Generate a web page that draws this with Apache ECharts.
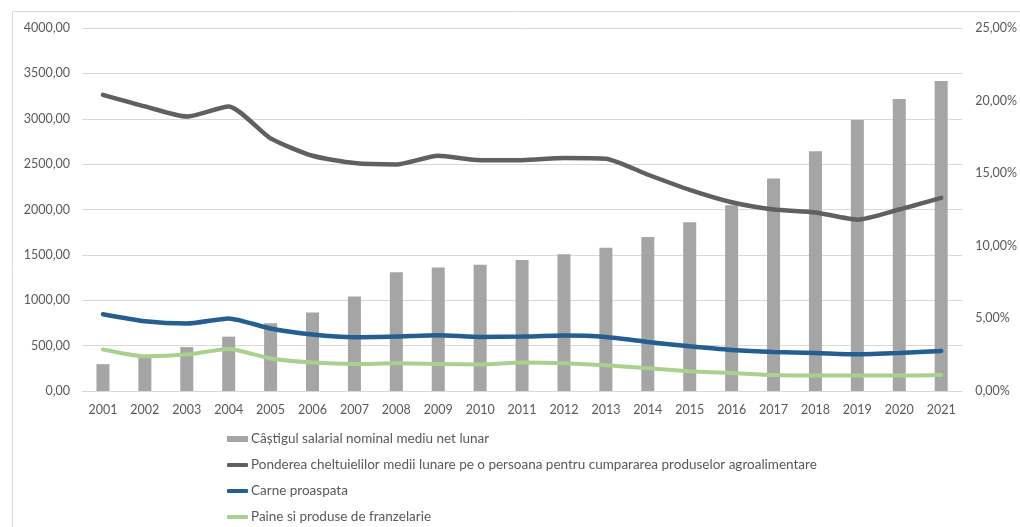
<!DOCTYPE html>
<html><head><meta charset="utf-8">
<script src="https://cdn.jsdelivr.net/npm/echarts@6/dist/echarts.min.js"></script>
<style>html,body{margin:0;padding:0;background:#fff}#c{width:1020px;height:527px}</style>
</head><body><div id="c"></div>
<script>
const years = ['2001','2002','2003','2004','2005','2006','2007','2008','2009','2010','2011','2012','2013','2014','2015','2016','2017','2018','2019','2020','2021'];
const salary = [296,379,484,599,746,866,1042,1309,1361,1391,1444,1507,1579,1697,1859,2046,2342,2642,2986,3217,3417];
const pondere = [20.4,19.6,18.9,19.6,17.4,16.2,15.7,15.6,16.2,15.9,15.9,16.05,16.0,14.9,13.85,13.0,12.5,12.3,11.8,12.5,13.3];
const carne = [5.29,4.81,4.65,5.0,4.3,3.89,3.7,3.75,3.84,3.72,3.75,3.82,3.72,3.38,3.08,2.83,2.69,2.62,2.53,2.62,2.76];
const paine = [2.86,2.39,2.51,2.9,2.24,1.96,1.86,1.91,1.86,1.82,1.96,1.91,1.77,1.57,1.36,1.24,1.1,1.06,1.06,1.06,1.1];
const names = ['Câștigul salarial nominal mediu net lunar','Ponderea cheltuielilor medii lunare pe o persoana pentru cumpararea produselor agroalimentare','Carne proaspata','Paine si produse de franzelarie'];

const txt = '#595959';
const font = 'Lato, "Open Sans", sans-serif';
const legendTops = [427, 453, 479, 505];
const legends = names.map((n, i) => ({
  orient: 'vertical', left: 222, top: legendTops[i],
  itemWidth: 21, itemHeight: i === 0 ? 6 : 4, itemGap: 0,
  icon: i === 0 ? 'rect' : 'roundRect',
  textStyle: {color: txt, fontSize: 13.5, fontFamily: font, padding: [0, 0, 0, -2]},
  data: [n]
}));
const chart = echarts.init(document.getElementById('c'));
chart.setOption({
  animation: false,
  textStyle: {fontFamily: font},
  graphic: [{type:'rect', shape:{x:12.5,y:11.5,width:1020,height:530}, style:{fill:'none', stroke:'#d9d9d9', lineWidth:1}, silent:true}],
  grid: {left: 82, right: 54, top: 28, bottom: 136},
  legend: legends,
  xAxis: {
    type: 'category', data: years,
    axisLine: {lineStyle: {color: '#d9d9d9'}},
    axisTick: {show: false},
    axisLabel: {color: txt, fontSize: 12.5, margin: 12}
  },
  yAxis: [{
    type: 'value', min: 0, max: 4000, interval: 500,
    axisLine: {show: false}, axisTick: {show: false},
    splitLine: {lineStyle: {color: '#d9d9d9'}},
    axisLabel: {color: txt, fontSize: 12.5, margin: 12, formatter: v => v.toFixed(2).replace('.', ',')}
  }, {
    type: 'value', min: 0, max: 25, interval: 5,
    axisLine: {show: false}, axisTick: {show: false}, splitLine: {show: false},
    axisLabel: {color: txt, fontSize: 12.5, margin: 13, formatter: v => v.toFixed(2).replace('.', ',') + '%'}
  }],
  series: [
    {name: names[0], type: 'bar', data: salary, barWidth: 13, itemStyle: {color: '#a5a5a5'}},
    {name: names[1], type: 'line', yAxisIndex: 1, data: pondere, smooth: 0.2, symbol: 'none', lineStyle: {color: '#606060', width: 4.5, cap: 'round'}, itemStyle: {color: '#606060'}},
    {name: names[2], type: 'line', yAxisIndex: 1, data: carne, smooth: 0.2, symbol: 'none', lineStyle: {color: '#255e91', width: 4.5, cap: 'round'}, itemStyle: {color: '#255e91'}},
    {name: names[3], type: 'line', yAxisIndex: 1, data: paine, smooth: 0.2, symbol: 'none', lineStyle: {color: '#a9d18e', width: 4, cap: 'round'}, itemStyle: {color: '#a9d18e'}}
  ]
});
</script></body></html>
